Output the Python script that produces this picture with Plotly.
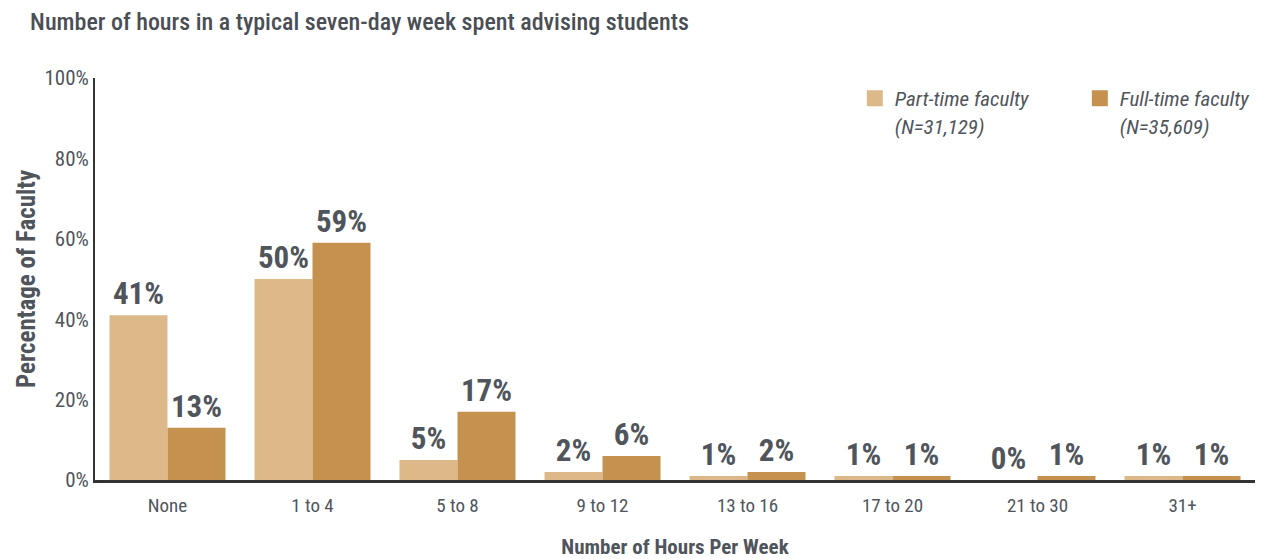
import plotly.graph_objects as go

categories = ["None", "1 to 4", "5 to 8", "9 to 12", "13 to 16", "17 to 20", "21 to 30", "31+"]
part_time = [41, 50, 5, 2, 1, 1, 0, 1]
full_time = [13, 59, 17, 6, 2, 1, 1, 1]
y_ticks = [0, 20, 40, 60, 80, 100]
y_tick_labels = ["0%", "20%", "40%", "60%", "80%", "100%"]
series_names = ["<i>Part-time faculty<br>(N=31,129)</i>", "<i>Full-time faculty<br>(N=35,609)</i>"]
colors = ["#DDB98A", "#C4924E"]

FONT = "Roboto Condensed, Liberation Sans Narrow, Arial Narrow, Liberation Sans, sans-serif"
TXT = "#50555c"

fig = go.Figure()
for vals, name, col, lg in [(part_time, series_names[0], colors[0], "legend"),
                            (full_time, series_names[1], colors[1], "legend2")]:
    fig.add_trace(go.Bar(
        x=categories, y=vals, name=name, showlegend=False,
        marker=dict(color=col, line=dict(width=0)),
        text=[f"{v}%" for v in vals], textposition="outside",
        textfont=dict(size=31, color=TXT, family=FONT, weight="bold"), cliponaxis=False,
    ))
    fig.add_trace(go.Scatter(
        x=[None], y=[None], mode="markers", name=name, legend=lg,
        marker=dict(symbol="square", size=20, color=col),
    ))

legend_common = dict(font=dict(size=21, color=TXT, family=FONT), yanchor="top",
                     valign="top", bgcolor="rgba(0,0,0,0)", itemwidth=30)
fig.update_layout(
    width=1264, height=551,
    margin=dict(l=87, r=17, t=70, b=79),
    paper_bgcolor="white", plot_bgcolor="white",
    font=dict(family=FONT, color=TXT),
    barmode="group", bargap=0.2, bargroupgap=0,
    legend=dict(x=0.655, y=1.0, xanchor="left", **legend_common),
    legend2=dict(x=0.849, y=1.0, xanchor="left", **legend_common),
    title=dict(text="Number of hours in a typical seven-day week spent advising students",
               x=0.0175, xanchor="left", y=0.975, yanchor="middle", pad=dict(l=0, t=0, b=0, r=0),
               font=dict(size=24, color="#4a4e55", family=FONT, weight=500)),
    xaxis=dict(showline=True, linecolor="#333", linewidth=3, ticks="", ticklabelstandoff=6,
               automargin=False, tickfont=dict(size=19, color=TXT),
               title=dict(text="<b>Number of Hours Per Week</b>", font=dict(size=21, color=TXT), standoff=24)),
    yaxis=dict(range=[0, 100], tickvals=y_ticks, ticktext=y_tick_labels, automargin=False,
               showline=True, linecolor="#333", linewidth=2, showgrid=False, zeroline=False,
               ticks="", tickfont=dict(size=21, color=TXT),
               title=dict(text="<b>Percentage of Faculty</b>", font=dict(size=25, color=TXT), standoff=2)),
)
fig.write_html("out.html")
